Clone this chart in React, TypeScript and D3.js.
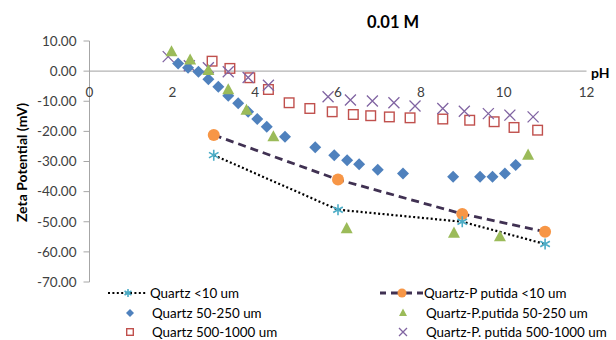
import React from "react";
import * as d3 from "d3";

// values: [pH, zeta potential mV]
const quartzFine: [number, number][] = [
  [3.0, -27.9], [6.0, -46.0], [9.0, -50.0], [11.0, -57.4],
];
const putidaFine: [number, number][] = [
  [3.0, -21.2], [6.0, -36.0], [9.0, -47.4], [11.0, -53.3],
];
const quartzMid: [number, number][] = [
  [2.14, 2.5], [2.38, 1.1], [2.63, -0.2], [2.87, -2.7], [3.11, -5.2], [3.35, -8.2],
  [3.59, -10.7], [3.83, -13.5], [4.05, -15.9], [4.28, -18.5], [4.72, -21.8],
  [5.45, -25.3], [5.91, -27.9], [6.22, -29.6], [6.51, -30.9], [6.96, -32.7],
  [7.57, -34.0], [8.78, -35.1], [9.43, -35.1], [9.73, -35.1], [10.03, -34.0],
  [10.29, -31.2],
];
const putidaMid: [number, number][] = [
  [1.98, 6.4], [2.43, 3.7], [2.87, 0.2], [3.35, -6.2], [3.79, -13.0], [4.44, -21.8],
  [6.21, -52.3], [8.8, -53.8], [9.91, -55.0], [10.59, -27.9],
];
const quartzCoarse: [number, number][] = [
  [2.96, 3.3], [3.39, 0.9], [3.87, -2.2], [4.32, -6.1], [4.82, -10.5], [5.32, -12.4],
  [5.86, -13.5], [6.37, -14.4], [6.79, -14.8], [7.24, -15.2], [7.74, -15.5],
  [8.53, -15.9], [9.18, -16.3], [9.77, -16.8], [10.25, -18.7], [10.82, -19.6],
];
const putidaCoarse: [number, number][] = [
  [1.9, 4.8], [2.41, 1.8], [2.87, 1.1], [3.35, -0.2], [3.83, -2.1], [4.32, -4.7],
  [5.76, -8.5], [6.3, -9.6], [6.83, -9.9], [7.35, -10.5], [7.86, -11.6],
  [8.53, -12.4], [9.05, -13.3], [9.63, -14.1], [10.15, -14.6], [10.71, -15.2],
];

const phTicks = [0, 2, 4, 6, 8, 10, 12];
const zetaTicks = [10, 0, -10, -20, -30, -40, -50, -60, -70];

const font = "Lato, 'Liberation Sans', sans-serif";

type Shape = "star" | "circle" | "diamond" | "triangle" | "square" | "cross";

function Marker({ shape, x, y, s }: { shape: Shape; x: number; y: number; s: number }) {
  const h = s / 2;
  switch (shape) {
    case "star":
      return (
        <path
          d={`M${x},${y - h}L${x},${y + h}M${x - h * 0.87},${y - h * 0.5}L${x + h * 0.87},${y + h * 0.5}M${x - h * 0.87},${y + h * 0.5}L${x + h * 0.87},${y - h * 0.5}`}
          stroke="#4bacc6"
          strokeWidth={1.6}
          fill="none"
        />
      );
    case "circle":
      return <circle cx={x} cy={y} r={h} fill="#f79646" />;
    case "diamond":
      return (
        <path d={`M${x},${y - h}L${x + h},${y}L${x},${y + h}L${x - h},${y}Z`} fill="#4f81bd" />
      );
    case "triangle":
      return (
        <path
          d={`M${x},${y - h * 1.1}L${x + h},${y + h * 0.75}L${x - h},${y + h * 0.75}Z`}
          fill="#9bbb59"
        />
      );
    case "square":
      return (
        <rect
          x={x - h + 0.7}
          y={y - h + 0.7}
          width={s - 1.4}
          height={s - 1.4}
          fill="none"
          stroke="#c0504d"
          strokeWidth={1.4}
        />
      );
    case "cross":
      return (
        <path
          d={`M${x - h},${y - h}L${x + h},${y + h}M${x - h},${y + h}L${x + h},${y - h}`}
          stroke="#8064a2"
          strokeWidth={1.3}
          fill="none"
        />
      );
  }
}

export default function App() {
  const x = d3.scaleLinear().domain([0, 12]).range([89.5, 586.5]);
  const y = d3.scaleLinear().domain([-70, 10]).range([282, 41]);
  const line = d3
    .line<[number, number]>()
    .x((d) => x(d[0]))
    .y((d) => y(d[1]));

  const scatter = (data: [number, number][], shape: Shape, s: number) =>
    data.map((d, i) => <Marker key={i} shape={shape} x={x(d[0])} y={y(d[1])} s={s} />);

  const legend = [
    { label: "Quartz <10 um", shape: "star" as Shape, lx: 128, ly: 293, dash: "dot" },
    { label: "Quartz-P putida <10 um", shape: "circle" as Shape, lx: 402, ly: 293, dash: "dash" },
    { label: "Quartz 50-250 um", shape: "diamond" as Shape, lx: 130, ly: 313 },
    { label: "Quartz-P.putida 50-250 um", shape: "triangle" as Shape, lx: 403, ly: 313 },
    { label: "Quartz 500-1000 um", shape: "square" as Shape, lx: 130, ly: 332 },
    { label: "Quartz-P. putida 500-1000 um", shape: "cross" as Shape, lx: 403, ly: 332 },
  ];

  return (
    <svg
      width={616}
      height={340}
      style={{ position: "absolute", left: 0, top: 0, background: "#fff" }}
      fontFamily={font}
    >
      <text x={393} y={28} textAnchor="middle" fontSize={16.5} fontWeight="bold" fill="#000">
        0.01 M
      </text>

      {/* axes */}
      <line x1={x(0)} x2={x(12)} y1={y(0)} y2={y(0)} stroke="#b3b3b3" strokeWidth={1.2} />
      <line x1={x(0)} x2={x(0)} y1={y(10)} y2={y(-70)} stroke="#a6a6a6" strokeWidth={1} />
      {zetaTicks.map((t) => (
        <g key={t}>
          <line x1={x(0) - 6} x2={x(0)} y1={y(t)} y2={y(t)} stroke="#a6a6a6" />
          <text
            x={x(0) - 13}
            y={y(t)}
            dy="0.36em"
            textAnchor="end"
            fontSize={13.5}
            fill="#404040"
          >
            {t.toFixed(2)}
          </text>
        </g>
      ))}
      {phTicks.map((t) => (
        <text key={t} x={x(t)} y={y(0) + 21} dy="0.36em" textAnchor="middle" fontSize={13.5} fill="#404040">
          {t}
        </text>
      ))}
      <text x={591} y={y(0) + 2} dy="0.36em" fontSize={14} fontWeight="bold" fill="#000">
        pH
      </text>
      <text
        transform={`translate(22,${(y(10) + y(-70)) / 2 + 1}) rotate(-90)`}
        textAnchor="middle"
        dy="0.36em"
        fontSize={14}
        fontWeight="bold"
        fill="#000"
      >
        Zeta Potential (mV)
      </text>

      {/* lines */}
      <path d={line(quartzFine) ?? ""} fill="none" stroke="#000" strokeWidth={2.2} strokeDasharray="2 2.4" />
      <path d={line(putidaFine) ?? ""} fill="none" stroke="#403152" strokeWidth={2.8} strokeDasharray="8 5" />

      {scatter(quartzCoarse, "square", 11)}
      {scatter(putidaCoarse, "cross", 11)}
      {scatter(quartzMid, "diamond", 12)}
      {scatter(putidaMid, "triangle", 12)}
      {scatter(putidaFine, "circle", 12)}
      {scatter(quartzFine, "star", 11)}

      {/* legend */}
      {legend.map((l) => (
        <g key={l.label}>
          {l.dash === "dot" && (
            <line x1={l.lx - 20} x2={l.lx + 19} y1={l.ly} y2={l.ly} stroke="#000" strokeWidth={2.2} strokeDasharray="2 2.4" />
          )}
          {l.dash === "dash" && (
            <line x1={l.lx - 22} x2={l.lx + 21} y1={l.ly} y2={l.ly} stroke="#403152" strokeWidth={2.8} strokeDasharray="8 5" strokeDashoffset={2} />
          )}
          <Marker shape={l.shape} x={l.lx} y={l.ly} s={l.shape === "circle" ? 9 : 8} />
          <text
            x={l.dash === "dash" ? l.lx + 22 : l.lx + (l.lx < 300 ? 22 : 23)}
            y={l.ly}
            dy="0.36em"
            fontSize={13.4}
            fill="#000"
          >
            {l.label}
          </text>
        </g>
      ))}
    </svg>
  );
}
